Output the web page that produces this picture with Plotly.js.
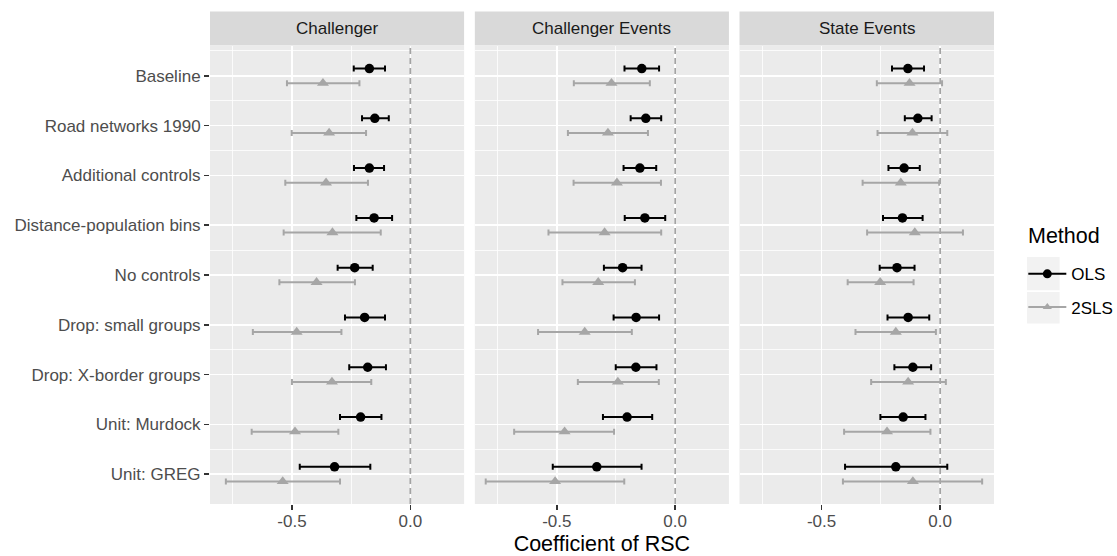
<!DOCTYPE html>
<html>
<head>
<meta charset="utf-8">
<script src="https://cdn.plot.ly/plotly-3.0.1.min.js"></script>
<style>html,body{margin:0;padding:0;background:#fff;}#chart{width:1117px;height:556px;}</style>
</head>
<body>
<div id="chart"></div>
<script>
// ---------------- DATA ----------------
const categories = ["Baseline","Road networks 1990","Additional controls","Distance-population bins","No controls","Drop: small groups","Drop: X-border groups","Unit: Murdock","Unit: GREG"];
const panels = ["Challenger","Challenger Events","State Events"];
const methods = ["OLS","2SLS"];

// Challenger
const chOLS_est = [-0.173,-0.150,-0.173,-0.153,-0.235,-0.193,-0.180,-0.210,-0.320];
const chOLS_lo  = [-0.239,-0.204,-0.238,-0.228,-0.307,-0.276,-0.258,-0.297,-0.467];
const chOLS_hi  = [-0.107,-0.091,-0.111,-0.077,-0.159,-0.107,-0.103,-0.122,-0.169];
const ch2SLS_est = [-0.369,-0.343,-0.356,-0.329,-0.396,-0.480,-0.331,-0.487,-0.539];
const ch2SLS_lo  = [-0.521,-0.501,-0.528,-0.535,-0.553,-0.665,-0.500,-0.670,-0.779];
const ch2SLS_hi  = [-0.215,-0.187,-0.179,-0.125,-0.234,-0.291,-0.165,-0.304,-0.297];

// Challenger Events
const ceOLS_est = [-0.141,-0.124,-0.149,-0.128,-0.222,-0.165,-0.166,-0.203,-0.331];
const ceOLS_lo  = [-0.214,-0.188,-0.218,-0.213,-0.301,-0.260,-0.251,-0.305,-0.517];
const ceOLS_hi  = [-0.068,-0.059,-0.080,-0.042,-0.142,-0.068,-0.079,-0.097,-0.142];
const ce2SLS_est = [-0.269,-0.284,-0.246,-0.298,-0.325,-0.382,-0.242,-0.467,-0.507];
const ce2SLS_lo  = [-0.428,-0.453,-0.429,-0.535,-0.476,-0.579,-0.411,-0.680,-0.800];
const ce2SLS_hi  = [-0.107,-0.115,-0.060,-0.059,-0.170,-0.183,-0.069,-0.258,-0.215];

// State Events
const seOLS_est = [-0.136,-0.094,-0.152,-0.159,-0.182,-0.135,-0.115,-0.156,-0.187];
const seOLS_lo  = [-0.203,-0.149,-0.218,-0.241,-0.255,-0.222,-0.193,-0.252,-0.401];
const seOLS_hi  = [-0.068,-0.036,-0.086,-0.074,-0.108,-0.046,-0.038,-0.062, 0.030];
const se2SLS_est = [-0.129,-0.117,-0.166,-0.107,-0.253,-0.187,-0.135,-0.224,-0.115];
const se2SLS_lo  = [-0.267,-0.264,-0.327,-0.308,-0.390,-0.357,-0.291,-0.405,-0.410];
const se2SLS_hi  = [ 0.008, 0.030,-0.004, 0.096,-0.112,-0.018, 0.024,-0.041, 0.177];

const xTickVals = [-0.5, 0];
const xTickText = ["-0.5", "0.0"];
const yMinorGrid = [0.5, 1.5, 2.5, 4.5, 6.5, 8.5];
const refLineX = 0;

// ---------------- STYLE ----------------
const FONT = "Liberation Sans, Arial, sans-serif";
const olsColor = "#000000";
const tslsColor = "#A6A6A6";
const dodge = 0.147;
const xRange = [-0.846, 0.227];
const yRange = [9.6, 0.4];
const domains = [[0, 0.3241], [0.3378, 0.6619], [0.6754, 1]];
const W = 1117, H = 556, L = 210, R = 123.3, T = 45.5, B = 52;
const plotW = W - L - R, plotH = H - T - B;
const px2x = p => (p - L) / plotW;
const py2y = p => (H - B - p) / plotH;

const series = [
  [[chOLS_est, chOLS_lo, chOLS_hi], [ch2SLS_est, ch2SLS_lo, ch2SLS_hi]],
  [[ceOLS_est, ceOLS_lo, ceOLS_hi], [ce2SLS_est, ce2SLS_lo, ce2SLS_hi]],
  [[seOLS_est, seOLS_lo, seOLS_hi], [se2SLS_est, se2SLS_lo, se2SLS_hi]]
];

const pos = categories.map((c, i) => i + 1);
const traces = [];
panels.forEach((p, pi) => {
  const xa = pi === 0 ? "x" : "x" + (pi + 1);
  // dashed zero reference line (below the points)
  traces.push({
    type: "scatter", mode: "lines", x: [refLineX, refLineX], y: [yRange[0], yRange[1]],
    xaxis: xa, yaxis: "y", showlegend: false, hoverinfo: "skip",
    line: {color: "#A3A3A3", width: 1.7, dash: "6px,4px"}
  });
  methods.forEach((m, mi) => {
    const [est, lo, hi] = series[pi][mi];
    const col = mi === 0 ? olsColor : tslsColor;
    traces.push({
      type: "scatter", mode: "markers",
      x: est,
      y: pos.map(v => v + (mi === 0 ? -dodge : dodge)),
      xaxis: xa, yaxis: "y",
      name: m, showlegend: false, hoverinfo: "skip",
      marker: mi === 0 ? {symbol: "circle", size: 9.5, color: col}
                       : {symbol: "triangle-up", size: 10.5, color: col},
      error_x: {type: "data", symmetric: false,
        array: hi.map((h, k) => h - est[k]),
        arrayminus: lo.map((l, k) => est[k] - l),
        color: col, thickness: 2, width: 3}
    });
  });
});
// legend entries
methods.forEach((m, mi) => {
  const col = mi === 0 ? olsColor : tslsColor;
  traces.push({
    type: "scatter", mode: "lines+markers", x: [null], y: [null],
    name: m, legendgroup: m, showlegend: true,
    line: {color: col, width: 2},
    marker: mi === 0 ? {symbol: "circle", size: 9, color: col}
                     : {symbol: "triangle-up", size: 8, color: col}
  });
});

const layout = {
  width: W, height: H,
  margin: {l: L, r: R, t: T, b: B, pad: 0, autoexpand: false},
  paper_bgcolor: "#ffffff",
  plot_bgcolor: "#EBEBEB",
  font: {family: FONT, size: 17, color: "#4D4D4D"},
  showlegend: true,
  legend: {
    x: px2x(1023), xanchor: "left",
    y: py2y(256), yanchor: "top",
    font: {size: 17, color: "#000000"},
    bgcolor: "rgba(0,0,0,0)",
    tracegroupgap: 8,
    itemwidth: 38
  },
  yaxis: {
    range: yRange,
    tickmode: "array", tickvals: pos, ticktext: categories,
    showgrid: true, gridcolor: "#FFFFFF", gridwidth: 1.5,
    minor: {tickmode: "array", tickvals: yMinorGrid, showgrid: true, gridcolor: "#FFFFFF", gridwidth: 0.8, ticklen: 0},
    ticks: "outside", ticklen: 5, tickwidth: 1.5, tickcolor: "#333333",
    tickfont: {size: 17, color: "#4D4D4D"},
    zeroline: false, showline: false, fixedrange: true, automargin: false
  },
  shapes: [
    // legend key backgrounds
    {type: "rect", xref: "paper", yref: "paper", x0: px2x(1026.7), x1: px2x(1059.3), y0: py2y(290), y1: py2y(256.7), fillcolor: "#F2F2F2", line: {width: 0}, layer: "below"},
    {type: "rect", xref: "paper", yref: "paper", x0: px2x(1026.7), x1: px2x(1059.3), y0: py2y(323.3), y1: py2y(291.7), fillcolor: "#F2F2F2", line: {width: 0}, layer: "below"}
  ],
  annotations: [
    {xref: "paper", yref: "paper", x: px2x(1026), y: py2y(236), xanchor: "left", yanchor: "middle",
     text: "Method", showarrow: false, font: {size: 21.5, color: "#000000", family: FONT}}
  ]
};

panels.forEach((p, pi) => {
  const key = pi === 0 ? "xaxis" : "xaxis" + (pi + 1);
  const xa = pi === 0 ? "x" : "x" + (pi + 1);
  layout[key] = {
    domain: domains[pi], anchor: "y",
    range: xRange,
    tickmode: "array", tickvals: xTickVals, ticktext: xTickText,
    showgrid: true, gridcolor: "#FFFFFF", gridwidth: 1.5,
    minor: {tickmode: "linear", tick0: 0, dtick: 0.25, showgrid: true, gridcolor: "#FFFFFF", gridwidth: 0.8, ticklen: 0},
    ticks: "outside", ticklen: 5, tickwidth: 1.5, tickcolor: "#333333",
    ticklabelstandoff: -3,
    tickfont: {size: 17, color: "#4D4D4D"},
    zeroline: false, showline: false, fixedrange: true, automargin: false
  };
  if (pi === 1) {
    layout[key].title = {text: "Coefficient of RSC", font: {size: 21.5, color: "#000000"}, standoff: 12};
  }
  // facet strip
  layout.shapes.push({
    type: "rect", xref: xa + " domain", yref: "paper",
    x0: 0, x1: 1, y0: py2y(45), y1: py2y(11),
    fillcolor: "#D9D9D9", line: {width: 0}, layer: "below"
  });
  layout.annotations.push({
    xref: xa + " domain", yref: "paper", x: 0.5, y: py2y(28),
    text: p, showarrow: false, xanchor: "center", yanchor: "middle",
    font: {size: 17, color: "#1A1A1A", family: FONT}
  });
});

Plotly.newPlot("chart", traces, layout, {displayModeBar: false, staticPlot: true});
</script>
</body>
</html>
